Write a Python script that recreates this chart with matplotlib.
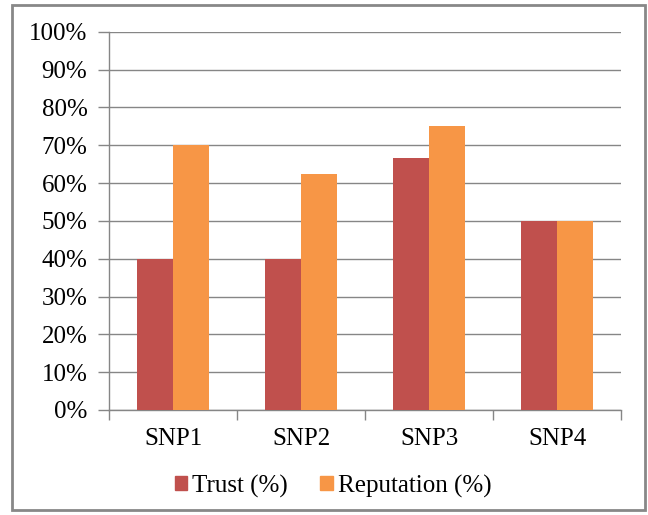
import matplotlib
matplotlib.use("Agg")
import matplotlib.pyplot as plt
from matplotlib.patches import Rectangle, Patch
from matplotlib.ticker import FuncFormatter, MultipleLocator
import numpy as np

categories = ["SNP1", "SNP2", "SNP3", "SNP4"]
trust = [40, 40, 66.7, 50]
reputation = [70, 62.5, 75, 50]
series_names = ["Trust (%)", "Reputation (%)"]

W, H = 648, 515
fig = plt.figure(figsize=(W / 100, H / 100), dpi=100)
plt.rcParams['font.family'] = ['Liberation Serif', 'DejaVu Serif']

ax = fig.add_axes([109 / W, 1 - 410 / H, (621 - 109) / W, (410 - 31.7) / H])
x = np.arange(len(categories))
bw = 36 / 128
c_trust = "#C0504D"
c_rep = "#F79646"
ax.bar(x - bw / 2, trust, bw, color=c_trust, zorder=3)
ax.bar(x + bw / 2, reputation, bw, color=c_rep, zorder=3)

ax.set_xlim(-0.5, len(categories) - 0.5)
ax.set_ylim(0, 100)
ax.yaxis.set_major_locator(MultipleLocator(10))
ax.yaxis.set_major_formatter(FuncFormatter(lambda v, p: f"{int(round(v))}%"))
ax.grid(axis="y", color="#868686", linewidth=1.0, zorder=0)

ax.set_xticks(x)
ax.set_xticklabels(categories)
ax.set_xticks(np.arange(len(categories) + 1) - 0.5, minor=True)
ax.tick_params(axis="x", which="major", length=0, pad=13, labelsize=18)
ax.tick_params(axis="x", which="minor", length=7, color="#868686", width=1)
ax.tick_params(axis="y", length=8, color="#868686", width=1, labelsize=18, pad=7.5)

for s in ["top", "right"]:
    ax.spines[s].set_visible(False)
for s in ["left", "bottom"]:
    ax.spines[s].set_color("#868686")
    ax.spines[s].set_linewidth(1)

handles = [Patch(color=c_trust), Patch(color=c_rep)]
fig.legend(handles, series_names, loc="center", bbox_to_anchor=(333 / W, 1 - 486 / H),
           ncol=2, frameon=False, fontsize=18, handlelength=0.5, handleheight=0.5,
           handletextpad=0.2, columnspacing=1.3)

fig.patches.append(Rectangle((12 / W, 1 - 510 / H), (645 - 12) / W, (510 - 5) / H,
                             transform=fig.transFigure, fill=False,
                             edgecolor="#888888", linewidth=2))

fig.savefig("out.png", dpi=100)
